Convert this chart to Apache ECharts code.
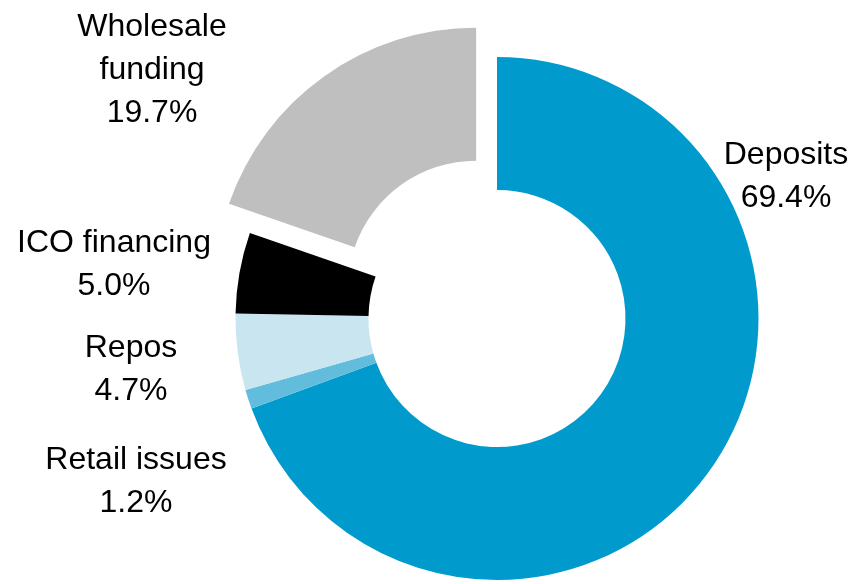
<!DOCTYPE html>
<html>
<head>
<meta charset="utf-8">
<script src="https://cdn.jsdelivr.net/npm/echarts@6/dist/echarts.min.js"></script>
<style>
  html, body { margin: 0; padding: 0; background: #ffffff; }
  #chart { width: 854px; height: 584px; }
</style>
</head>
<body>
<div id="chart"></div>
<script>
// Funding mix, share of total (%), clockwise from 12 o'clock
const categories = ['Deposits', 'Retail issues', 'Repos', 'ICO financing', 'Wholesale\nfunding'];
const shares = [69.4, 1.2, 4.7, 5.0, 19.7];
const sliceColors = ['#009acd', '#62bcdc', '#c9e6f0', '#000000', '#bfbfbf'];
const pulledOut = ['Wholesale\nfunding'];

// Label anchor (centre x, middle y) for each category
const labelAnchors = {
  'Deposits': [786, 177],
  'Retail issues': [136, 482],
  'Repos': [131, 370],
  'ICO financing': [114, 265],
  'Wholesale\nfunding': [152, 70]
};

const ring = { center: [497, 318.5], radius: [128.5, 261.5], startAngle: 90, clockwise: true };

const chart = echarts.init(document.getElementById('chart'), null, { renderer: 'canvas' });

// Ring of coloured sectors; the wholesale slice is pulled out
const sectors = categories.map((name, i) => ({
  name: name,
  value: shares[i],
  selected: pulledOut.includes(name),
  itemStyle: { color: sliceColors[i] }
}));

// Same values again on an invisible ring that only carries the text labels
const labelled = categories.map((name, i) => ({ name: name, value: shares[i] }));

chart.setOption({
  animation: false,
  backgroundColor: '#ffffff',
  series: [{
    type: 'pie',
    ...ring,
    selectedMode: 'multiple',
    selectedOffset: 36,
    emphasis: { disabled: true },
    itemStyle: { borderWidth: 0 },
    label: { show: false },
    labelLine: { show: false },
    data: sectors
  }, {
    type: 'pie',
    ...ring,
    silent: true,
    selectedMode: false,
    avoidLabelOverlap: false,
    emphasis: { disabled: true },
    itemStyle: { color: 'rgba(0,0,0,0)', borderWidth: 0 },
    labelLine: { show: false },
    label: {
      show: true,
      position: 'outside',
      formatter: p => p.name + '\n' + p.value.toFixed(1) + '%',
      fontFamily: 'Liberation Sans, Arial, sans-serif',
      fontSize: 32,
      lineHeight: 43,
      color: '#000000',
      align: 'center'
    },
    labelLayout: params => {
      const a = labelAnchors[categories[params.dataIndex]];
      return { x: a[0], y: a[1], align: 'center', verticalAlign: 'middle' };
    },
    data: labelled
  }]
});
</script>
</body>
</html>
